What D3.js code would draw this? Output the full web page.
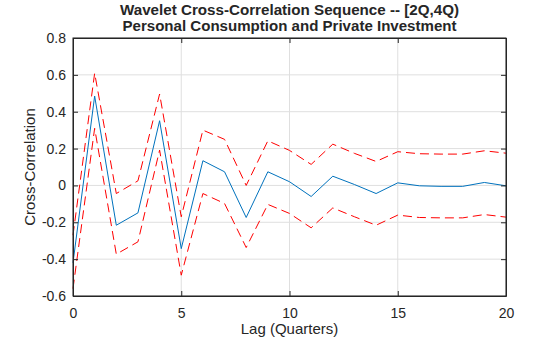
<!DOCTYPE html>
<html>
<head>
<meta charset="utf-8">
<script src="https://cdn.jsdelivr.net/npm/d3@7"></script>
<style>
  body { margin: 0; background: #fff; }
  text { font-family: "Liberation Sans", Arial, sans-serif; fill: #262626; }
</style>
</head>
<body>
<div id="chart"></div>
<script>
// Lags (quarters)
const lags = d3.range(0, 21);

// Wavelet cross-correlation estimate
const xcorr = [-0.42, 0.485, -0.216, -0.149, 0.351, -0.343, 0.134, 0.074, -0.174, 0.074,
  0.02, -0.06, 0.05, 0.005, -0.044, 0.014, -0.002, -0.005, -0.005, 0.016, -0.002];

// Upper and lower confidence bounds
const upper = [-0.27, 0.609, -0.044, 0.025, 0.496, -0.17, 0.30, 0.25, 0.0, 0.242,
  0.19, 0.114, 0.224, 0.174, 0.13, 0.183, 0.172, 0.17, 0.17, 0.188, 0.175];
const lower = [-0.56, 0.31, -0.373, -0.306, 0.192, -0.487, -0.044, -0.098, -0.337, -0.103,
  -0.152, -0.23, -0.122, -0.17, -0.216, -0.161, -0.174, -0.176, -0.176, -0.158, -0.172];

const xTicks = [0, 5, 10, 15, 20];
const yTicks = [-0.6, -0.4, -0.2, 0, 0.2, 0.4, 0.6, 0.8];

const width = 560;
const height = 337;
const margin = { top: 38, right: 54, bottom: 41, left: 73 };

const svg = d3.select("#chart").append("svg")
    .attr("width", width)
    .attr("height", height);

const xScale = d3.scaleLinear()
    .domain([0, 20])
    .range([margin.left, width - margin.right]);

const yScale = d3.scaleLinear()
    .domain([-0.6, 0.8])
    .range([height - margin.bottom, margin.top]);

// grid lines
svg.append("g")
    .selectAll("line.vg")
    .data(xTicks)
    .enter().append("line")
    .attr("x1", d => xScale(d))
    .attr("x2", d => xScale(d))
    .attr("y1", margin.top)
    .attr("y2", height - margin.bottom)
    .attr("stroke", "#dfdfdf")
    .attr("stroke-width", 1);

svg.append("g")
    .selectAll("line.hg")
    .data(yTicks)
    .enter().append("line")
    .attr("x1", margin.left)
    .attr("x2", width - margin.right)
    .attr("y1", d => yScale(d))
    .attr("y2", d => yScale(d))
    .attr("stroke", "#dfdfdf")
    .attr("stroke-width", 1);

// lines
const line = d3.line()
    .x((d, i) => xScale(lags[i]))
    .y(d => yScale(d));

svg.append("path")
    .datum(upper)
    .attr("d", line)
    .attr("fill", "none")
    .attr("stroke", "#ff0000")
    .attr("stroke-width", 1)
    .attr("stroke-dasharray", "9,5");

svg.append("path")
    .datum(lower)
    .attr("d", line)
    .attr("fill", "none")
    .attr("stroke", "#ff0000")
    .attr("stroke-width", 1)
    .attr("stroke-dasharray", "9,5");

svg.append("path")
    .datum(xcorr)
    .attr("d", line)
    .attr("fill", "none")
    .attr("stroke", "#0072bd")
    .attr("stroke-width", 1);

// plain hyphen minus like matlab
const fmtY = d => d === 0 ? "0" : d3.format(".1f")(d).replace("\u2212", "-");

// axes (ticks inside, like matlab)
svg.append("g")
    .attr("transform", `translate(0, ${height - margin.bottom})`)
    .call(d3.axisBottom(xScale).tickValues(xTicks).tickSizeInner(-5).tickSizeOuter(0).tickPadding(12).tickFormat(d3.format("d")));

svg.append("g")
    .attr("transform", `translate(${margin.left}, 0)`)
    .call(d3.axisLeft(yScale).tickValues(yTicks).tickSizeInner(-5).tickSizeOuter(0).tickPadding(7).tickFormat(fmtY));

// right and top ticks
svg.append("g")
    .attr("transform", `translate(${width - margin.right}, 0)`)
    .call(d3.axisRight(yScale).tickValues(yTicks).tickSizeInner(-5).tickSizeOuter(0).tickFormat(""));
svg.append("g")
    .attr("transform", `translate(0, ${margin.top})`)
    .call(d3.axisTop(xScale).tickValues(xTicks).tickSizeInner(-5).tickSizeOuter(0).tickFormat(""));

svg.selectAll(".domain").attr("stroke", "#262626");
svg.selectAll(".tick line").attr("stroke", "#262626");
svg.selectAll(".tick text")
    .style("font-family", "Liberation Sans, Arial, sans-serif")
    .style("font-size", "14px")
    .attr("fill", "#262626");

// box
svg.append("rect")
    .attr("x", margin.left)
    .attr("y", margin.top)
    .attr("width", width - margin.left - margin.right)
    .attr("height", height - margin.top - margin.bottom)
    .attr("fill", "none")
    .attr("stroke", "#262626")
    .attr("stroke-width", 1);

// titles
const cx = (margin.left + width - margin.right) / 2;

svg.append("text")
    .attr("x", cx)
    .attr("y", 15)
    .attr("text-anchor", "middle")
    .attr("textLength", 339)
    .attr("lengthAdjust", "spacingAndGlyphs")
    .style("font-size", "14.5px")
    .style("font-weight", "bold")
    .text("Wavelet Cross-Correlation Sequence -- [2Q,4Q)");

svg.append("text")
    .attr("x", cx)
    .attr("y", 31)
    .attr("text-anchor", "middle")
    .attr("textLength", 334)
    .attr("lengthAdjust", "spacingAndGlyphs")
    .style("font-size", "14.5px")
    .style("font-weight", "bold")
    .text("Personal Consumption and Private Investment");

svg.append("text")
    .attr("x", cx)
    .attr("y", 334)
    .attr("text-anchor", "middle")
    .style("font-size", "15px")
    .text("Lag (Quarters)");

svg.append("text")
    .attr("transform", `translate(35, ${(margin.top + height - margin.bottom) / 2}) rotate(-90)`)
    .attr("text-anchor", "middle")
    .style("font-size", "15px")
    .text("Cross-Correlation");
</script>
</body>
</html>
